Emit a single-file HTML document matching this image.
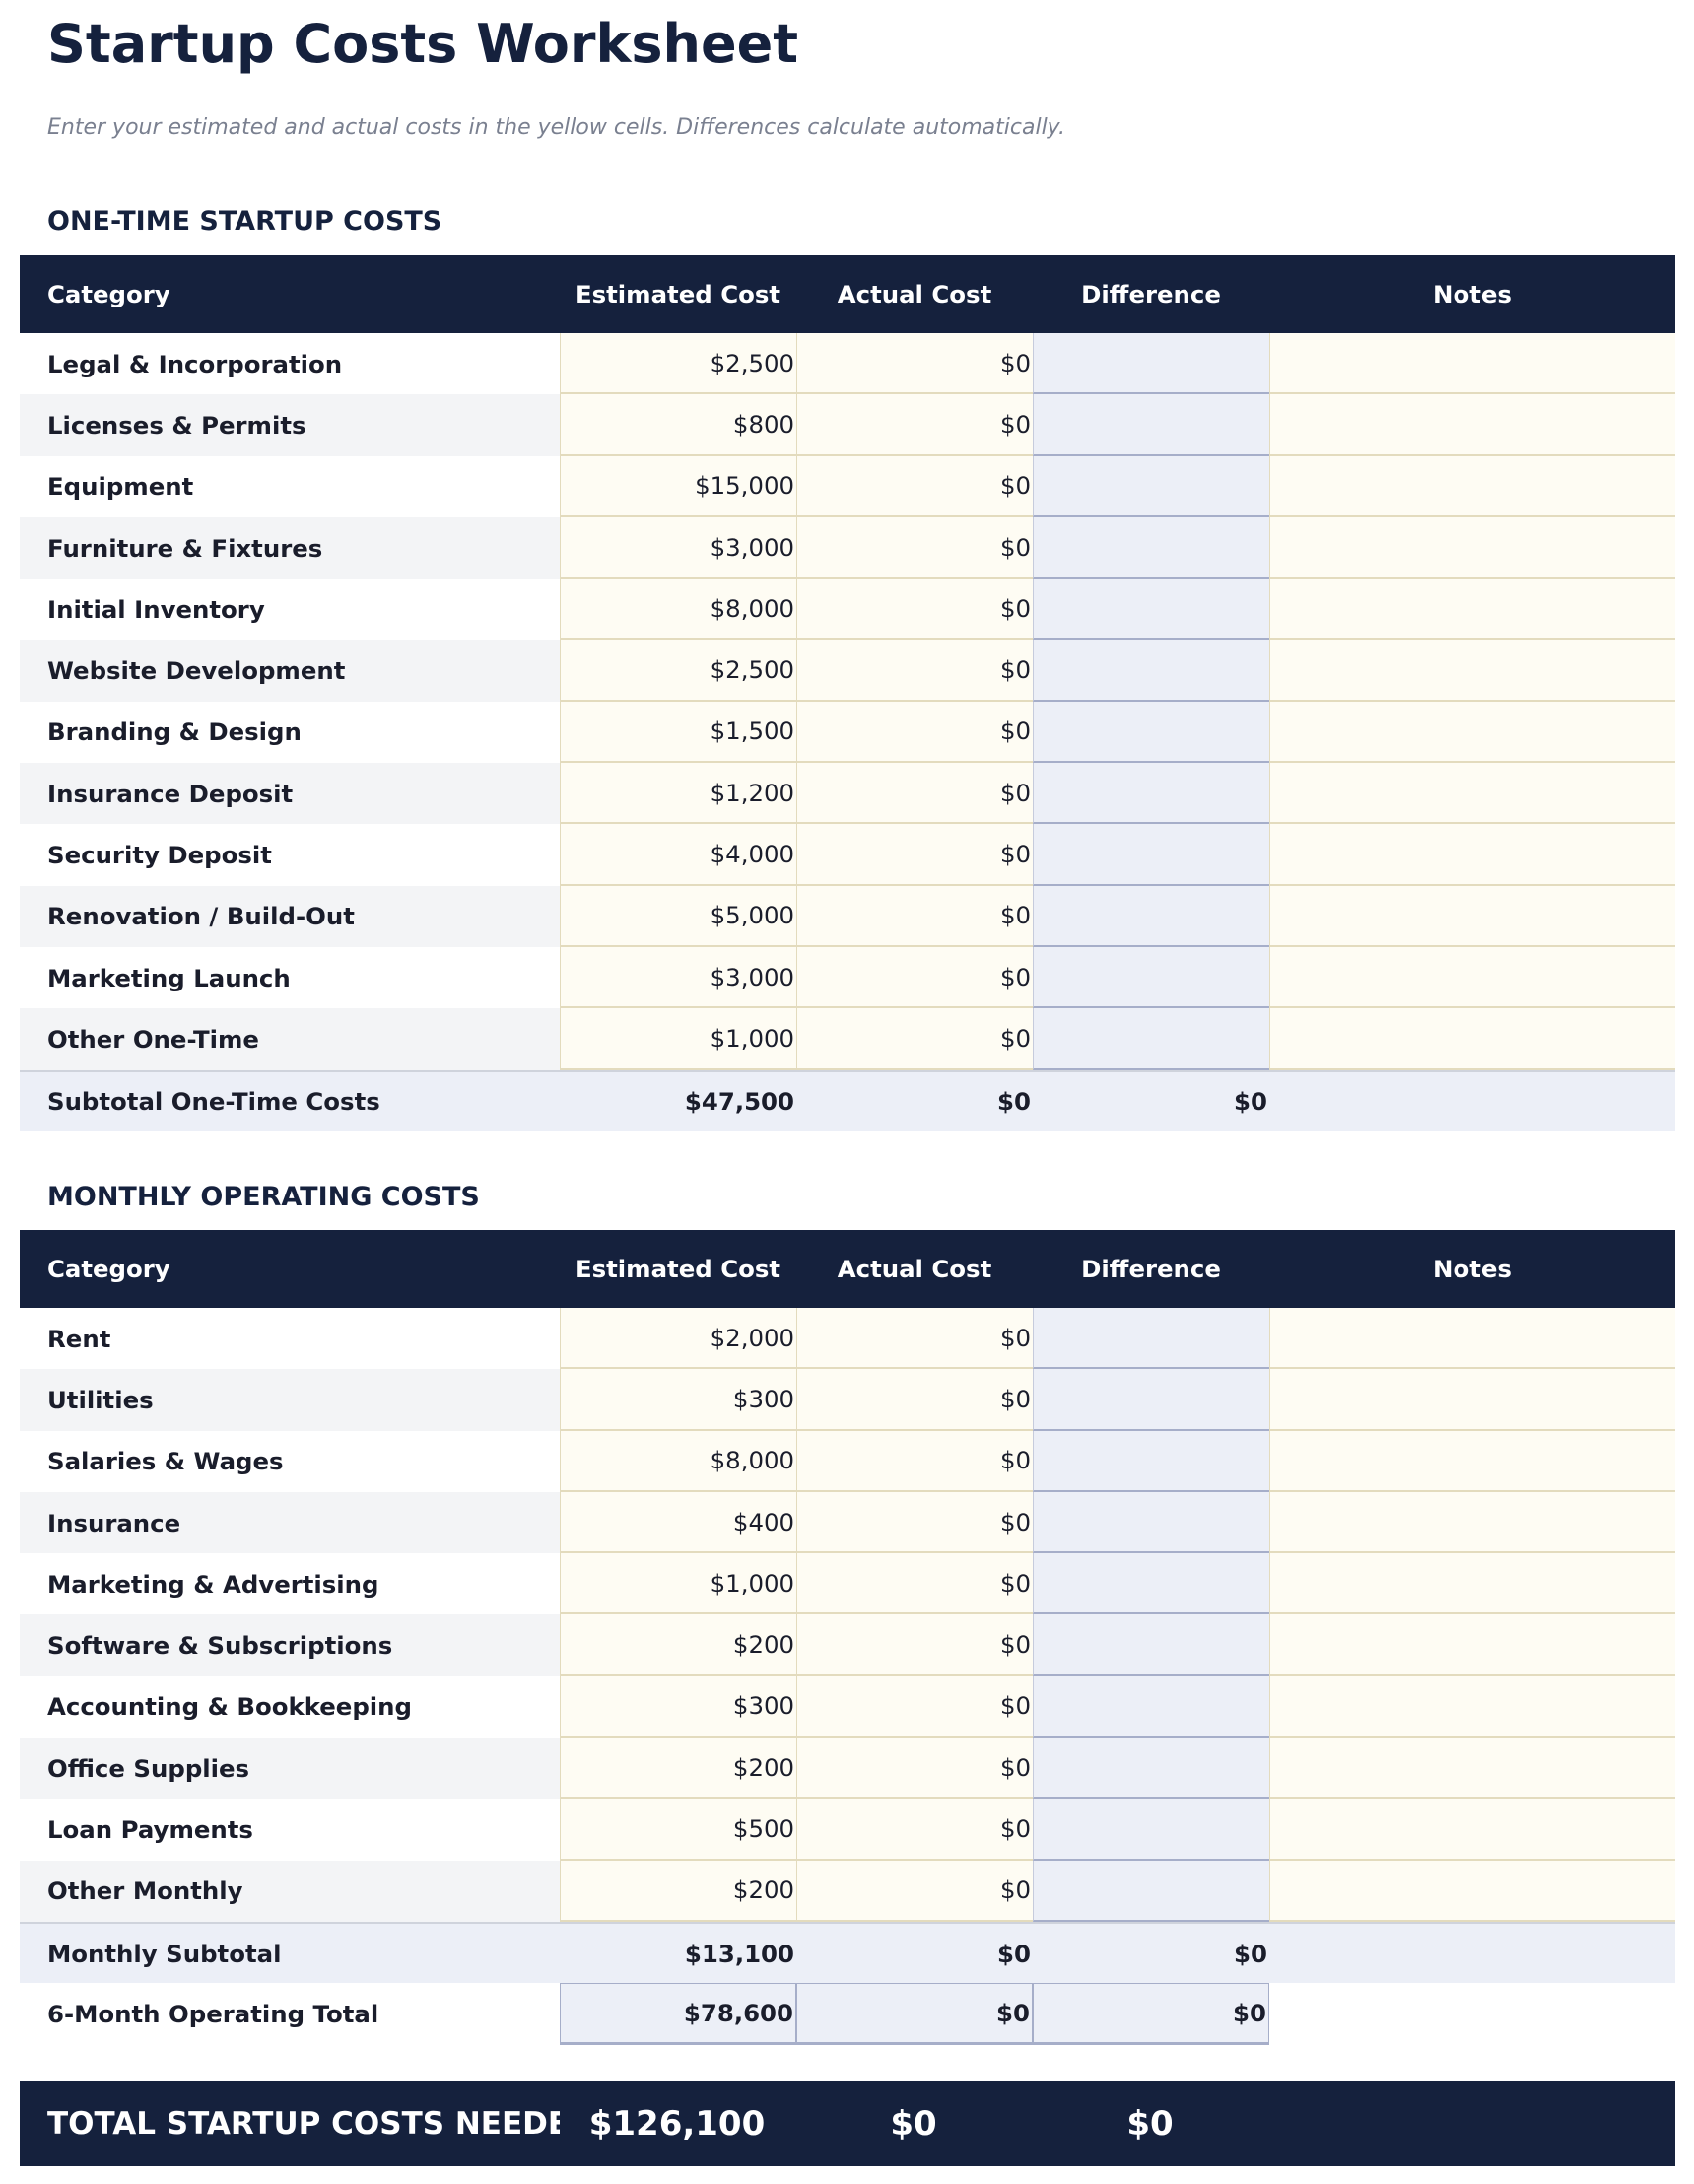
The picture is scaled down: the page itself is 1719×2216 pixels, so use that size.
<!DOCTYPE html>
<html><head><meta charset="utf-8"><style>
*{box-sizing:border-box;margin:0;padding:0}
body{width:1719px;height:2216px;background:#fff;font-family:"DejaVu Sans","Liberation Sans",sans-serif;color:#1a1d2b;position:relative;overflow:hidden}
h1{position:absolute;left:48px;top:10px;font-size:54px;font-weight:bold;color:#15213d;line-height:70px}
.sub{position:absolute;left:48px;top:117px;font-size:22px;font-style:italic;color:#7a8090}
.sec{position:absolute;left:48px;font-size:27px;font-weight:bold;color:#15213d}
.tbl{position:absolute;left:20px;width:1680px}
.r{display:flex;height:62.3px;font-size:24.4px;align-items:stretch}
.r>div{display:flex;align-items:center}
.c1{width:548px;padding-left:28px;font-weight:bold;white-space:nowrap}
.c2,.c3,.c4{width:240px;justify-content:flex-end;padding-right:2px}
.c5{width:412px}
.h{background:#15213d;color:#fff;height:79px;font-weight:bold}
.h .c2,.h .c3,.h .c4,.h .c5{justify-content:center;padding:0}
.a{background:#f3f4f6}
.y{background:#fefcf3;border-left:1px solid #e3dbbd;border-bottom:2px solid #e3dbbd}
.d{background:#eceff7;border-left:1px solid #c6cbdc;border-bottom:2px solid #a6aec9}
.s{background:#eceff7;font-weight:bold;border-top:2px solid #cfd3dc}
.t .c2,.t .c3,.t .c4{background:#eceff7;border:1px solid #a6aec9;border-bottom:3px solid #a6aec9;font-weight:bold}
.tot{position:absolute;left:20px;top:2111px;width:1680px;height:87px;background:#15213d;color:#fff;display:flex;align-items:center;font-weight:bold}
.tot .c1{font-size:31px;overflow:hidden;white-space:nowrap}
.tot .c2,.tot .c3,.tot .c4{justify-content:center;font-size:34px;display:flex}
</style></head><body>
<h1>Startup Costs Worksheet</h1>
<div class="sub">Enter your estimated and actual costs in the yellow cells. Differences calculate automatically.</div>
<div class="sec" style="top:209px">ONE-TIME STARTUP COSTS</div>
<div class="tbl" style="top:259px">
<div class="r h"><div class="c1">Category</div><div class="c2">Estimated Cost</div><div class="c3">Actual Cost</div><div class="c4">Difference</div><div class="c5">Notes</div></div>
<div class="r"><div class="c1">Legal &amp; Incorporation</div><div class="c2 y">$2,500</div><div class="c3 y">$0</div><div class="c4 d"></div><div class="c5 y"></div></div>
<div class="r a"><div class="c1">Licenses &amp; Permits</div><div class="c2 y">$800</div><div class="c3 y">$0</div><div class="c4 d"></div><div class="c5 y"></div></div>
<div class="r"><div class="c1">Equipment</div><div class="c2 y">$15,000</div><div class="c3 y">$0</div><div class="c4 d"></div><div class="c5 y"></div></div>
<div class="r a"><div class="c1">Furniture &amp; Fixtures</div><div class="c2 y">$3,000</div><div class="c3 y">$0</div><div class="c4 d"></div><div class="c5 y"></div></div>
<div class="r"><div class="c1">Initial Inventory</div><div class="c2 y">$8,000</div><div class="c3 y">$0</div><div class="c4 d"></div><div class="c5 y"></div></div>
<div class="r a"><div class="c1">Website Development</div><div class="c2 y">$2,500</div><div class="c3 y">$0</div><div class="c4 d"></div><div class="c5 y"></div></div>
<div class="r"><div class="c1">Branding &amp; Design</div><div class="c2 y">$1,500</div><div class="c3 y">$0</div><div class="c4 d"></div><div class="c5 y"></div></div>
<div class="r a"><div class="c1">Insurance Deposit</div><div class="c2 y">$1,200</div><div class="c3 y">$0</div><div class="c4 d"></div><div class="c5 y"></div></div>
<div class="r"><div class="c1">Security Deposit</div><div class="c2 y">$4,000</div><div class="c3 y">$0</div><div class="c4 d"></div><div class="c5 y"></div></div>
<div class="r a"><div class="c1">Renovation / Build-Out</div><div class="c2 y">$5,000</div><div class="c3 y">$0</div><div class="c4 d"></div><div class="c5 y"></div></div>
<div class="r"><div class="c1">Marketing Launch</div><div class="c2 y">$3,000</div><div class="c3 y">$0</div><div class="c4 d"></div><div class="c5 y"></div></div>
<div class="r a"><div class="c1">Other One-Time</div><div class="c2 y">$1,000</div><div class="c3 y">$0</div><div class="c4 d"></div><div class="c5 y"></div></div>
<div class="r s"><div class="c1">Subtotal One-Time Costs</div><div class="c2">$47,500</div><div class="c3">$0</div><div class="c4">$0</div><div class="c5"></div></div>
</div>
<div class="sec" style="top:1199px">MONTHLY OPERATING COSTS</div>
<div class="tbl" style="top:1248px">
<div class="r h"><div class="c1">Category</div><div class="c2">Estimated Cost</div><div class="c3">Actual Cost</div><div class="c4">Difference</div><div class="c5">Notes</div></div>
<div class="r"><div class="c1">Rent</div><div class="c2 y">$2,000</div><div class="c3 y">$0</div><div class="c4 d"></div><div class="c5 y"></div></div>
<div class="r a"><div class="c1">Utilities</div><div class="c2 y">$300</div><div class="c3 y">$0</div><div class="c4 d"></div><div class="c5 y"></div></div>
<div class="r"><div class="c1">Salaries &amp; Wages</div><div class="c2 y">$8,000</div><div class="c3 y">$0</div><div class="c4 d"></div><div class="c5 y"></div></div>
<div class="r a"><div class="c1">Insurance</div><div class="c2 y">$400</div><div class="c3 y">$0</div><div class="c4 d"></div><div class="c5 y"></div></div>
<div class="r"><div class="c1">Marketing &amp; Advertising</div><div class="c2 y">$1,000</div><div class="c3 y">$0</div><div class="c4 d"></div><div class="c5 y"></div></div>
<div class="r a"><div class="c1">Software &amp; Subscriptions</div><div class="c2 y">$200</div><div class="c3 y">$0</div><div class="c4 d"></div><div class="c5 y"></div></div>
<div class="r"><div class="c1">Accounting &amp; Bookkeeping</div><div class="c2 y">$300</div><div class="c3 y">$0</div><div class="c4 d"></div><div class="c5 y"></div></div>
<div class="r a"><div class="c1">Office Supplies</div><div class="c2 y">$200</div><div class="c3 y">$0</div><div class="c4 d"></div><div class="c5 y"></div></div>
<div class="r"><div class="c1">Loan Payments</div><div class="c2 y">$500</div><div class="c3 y">$0</div><div class="c4 d"></div><div class="c5 y"></div></div>
<div class="r a"><div class="c1">Other Monthly</div><div class="c2 y">$200</div><div class="c3 y">$0</div><div class="c4 d"></div><div class="c5 y"></div></div>
<div class="r s"><div class="c1">Monthly Subtotal</div><div class="c2">$13,100</div><div class="c3">$0</div><div class="c4">$0</div><div class="c5"></div></div>
<div class="r t"><div class="c1">6-Month Operating Total</div><div class="c2">$78,600</div><div class="c3">$0</div><div class="c4">$0</div><div class="c5"></div></div>
</div>
<div class="tot"><div class="c1">TOTAL STARTUP COSTS NEEDED</div><div class="c2">$126,100</div><div class="c3">$0</div><div class="c4">$0</div><div class="c5"></div></div>
</body></html>
